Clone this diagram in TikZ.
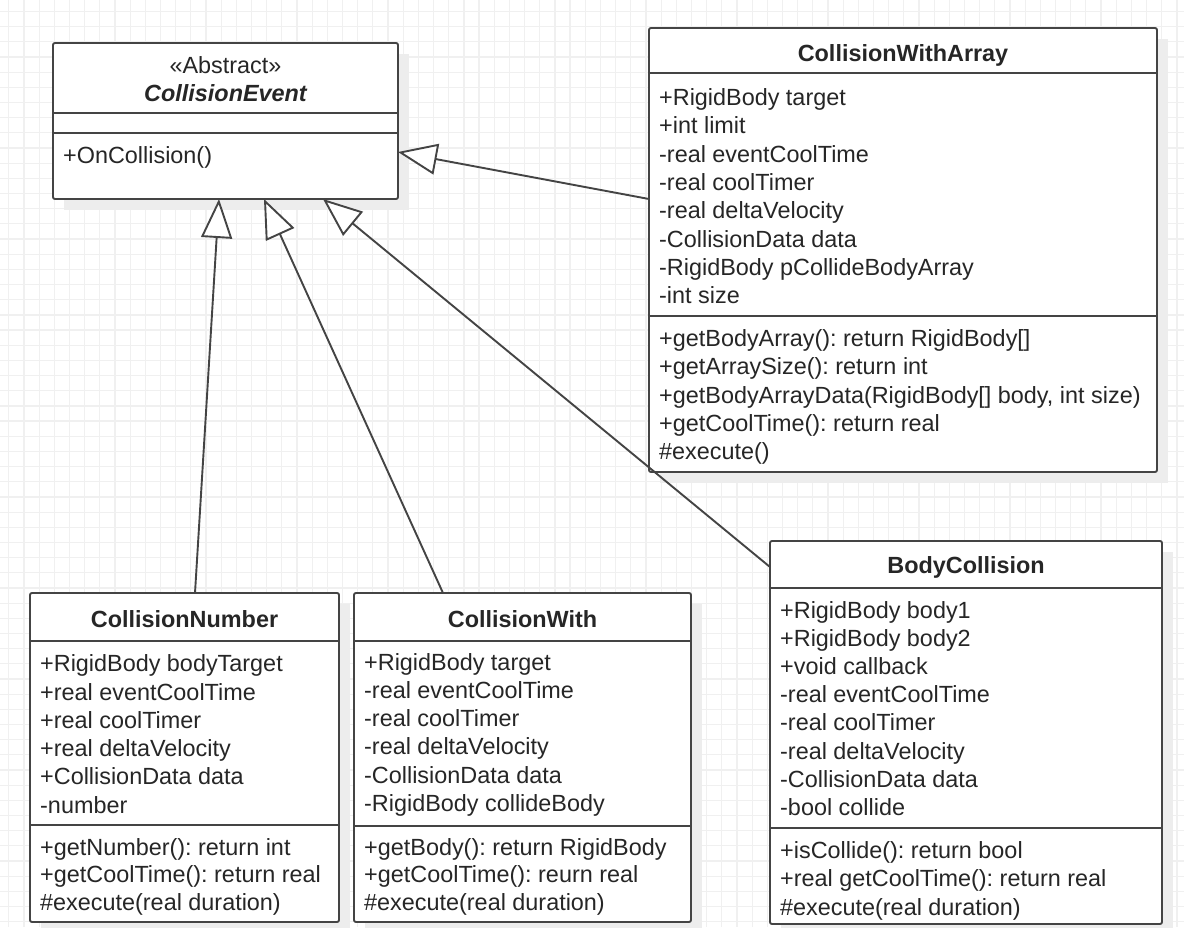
\documentclass[tikz,border=0pt]{standalone}
\usepackage{fontspec}
\setmainfont{Liberation Sans}
\usetikzlibrary{arrows.meta}

\definecolor{inkline}{HTML}{444444}
\definecolor{inktext}{HTML}{262626}
\definecolor{gridgray}{HTML}{F0F0F0}
\definecolor{shadowgray}{HTML}{EDEDED}

\tikzset{
  gridline/.style={draw=gridgray, line width=1.2pt},
  boxshadow/.style={fill=shadowgray},
  classframe/.style={draw=inkline, fill=white, line width=1.9pt, rounded corners=2pt,
                     inner sep=0pt, outer sep=0pt},
  divider/.style={draw=inkline, line width=1.9pt},
  member/.style={anchor=base west, inner sep=0pt, text=inktext,
                 font=\fontsize{23.4}{28}\selectfont},
  title/.style={anchor=base, inner sep=0pt, text=inktext,
                font=\fontsize{23.4}{28}\selectfont\bfseries},
  gen/.style={draw=inkline, line width=1.9pt,
              -{Triangle[length=39pt, width=31pt, fill=white, line width=1.9pt]}},
}

% class box: name, left, top, right, bottom, first divider, second divider
\newcommand\umlclassbox[7]{%
  \fill[boxshadow] (#2+11,#3+11) rectangle (#4+11,#5+11);
  \node[classframe, minimum width={#4-#2}, minimum height={#5-#3}]
       (#1) at ({(#2+#4)/2},{(#3+#5)/2}) {};
  \draw[divider] (#2,#6) -- (#4,#6);
  \draw[divider] (#2,#7) -- (#4,#7);
}

\begin{document}
\frenchspacing
\begin{tikzpicture}[x=1pt, y=-1pt]
\useasboundingbox (0,0) rectangle (1184,927);
\fill[white] (0,0) rectangle (1184,927);

% background grid
\foreach \k in {0,...,78} \draw[gridline] ({8.8+15.17*\k},0) -- ++(0,927);
\foreach \k in {0,...,61} \draw[gridline] (0,{11.5+15.17*\k}) -- ++(1184,0);

% class frames
\umlclassbox{event}{53}{43}{398}{199}{113.3}{133.3}
\umlclassbox{array}{649}{28}{1157}{472}{73}{316}
\umlclassbox{number}{30}{593}{339}{922}{641}{825}
\umlclassbox{with}{354}{593}{691}{922}{641}{826}
\umlclassbox{body}{770}{541}{1162}{924}{588}{828}

% CollisionEvent
\node[member, anchor=base, font=\fontsize{23.4}{28}\selectfont] (event-st) at (225.5,73.4) {«Abstract»};
\node[title, font=\fontsize{23.4}{28}\selectfont\bfseries\itshape] (event-t) at (225.5,101.7) {CollisionEvent};
\node[member] (event-m0) at (63,163.5) {+OnCollision()};

% CollisionWithArray
\node[title] (array-t) at (903,61.7) {CollisionWithArray};
\foreach \t [count=\i from 0] in {{+RigidBody target},{+int limit},{-real eventCoolTime},
    {-real coolTimer},{-real deltaVelocity},{-CollisionData data},
    {-RigidBody pCollideBodyArray},{-int size}}
  \node[member] (array-a\i) at (659,{105.5+28.3*\i}) {\t};
\foreach \t [count=\i from 0] in {{+getBodyArray(): return RigidBody[]},
    {+getArraySize(): return int},{+getBodyArrayData(RigidBody[] body, int size)},
    {+getCoolTime(): return real},{\#execute()}}
  \node[member] (array-m\i) at (659,{346.5+28.3*\i}) {\t};

% CollisionNumber
\node[title] (number-t) at (184.5,627.5) {CollisionNumber};
\foreach \t [count=\i from 0] in {{+RigidBody bodyTarget},{+real eventCoolTime},
    {+real coolTimer},{+real deltaVelocity},{+CollisionData data},{-number}}
  \node[member] (number-a\i) at (40,{671.7+28.3*\i}) {\t};
\foreach \t [count=\i from 0] in {{+getNumber(): return int},
    {+getCoolTime(): return real},{\#execute(real duration)}}
  \node[member] (number-m\i) at (40,{855+27.6*\i}) {\t};

% CollisionWith
\node[title] (with-t) at (522.5,627.5) {CollisionWith};
\foreach \t [count=\i from 0] in {{+RigidBody target},{-real eventCoolTime},
    {-real coolTimer},{-real deltaVelocity},{-CollisionData data},{-RigidBody collideBody}}
  \node[member] (with-a\i) at (364,{670+28.3*\i}) {\t};
\foreach \t [count=\i from 0] in {{+getBody(): return RigidBody},
    {+getCoolTime(): reurn real},{\#execute(real duration)}}
  \node[member] (with-m\i) at (364,{855+27.6*\i}) {\t};

% BodyCollision
\node[title] (body-t) at (966,573.5) {BodyCollision};
\foreach \t [count=\i from 0] in {{+RigidBody body1},{+RigidBody body2},{+void callback},
    {-real eventCoolTime},{-real coolTimer},{-real deltaVelocity},
    {-CollisionData data},{-bool collide}}
  \node[member] (body-a\i) at (780,{618.5+28.1*\i}) {\t};
\foreach \t [count=\i from 0] in {{+isCollide(): return bool},
    {+real getCoolTime(): return real},{\#execute(real duration)}}
  \node[member] (body-m\i) at (780,{858.5+28.3*\i}) {\t};

% generalisations
\draw[gen] ([yshift=-171pt]array.north west) -- ([yshift=-109pt]event.north east);
\draw[gen] ([xshift=10.5pt]number.north) -- ([xshift=-6.5pt]event.south);
\draw[gen] ([xshift=-79.5pt]with.north) -- ([xshift=38.5pt]event.south);
\draw[gen] ([yshift=-26pt]body.north west) -- ([xshift=97.5pt]event.south);
\end{tikzpicture}
\end{document}
